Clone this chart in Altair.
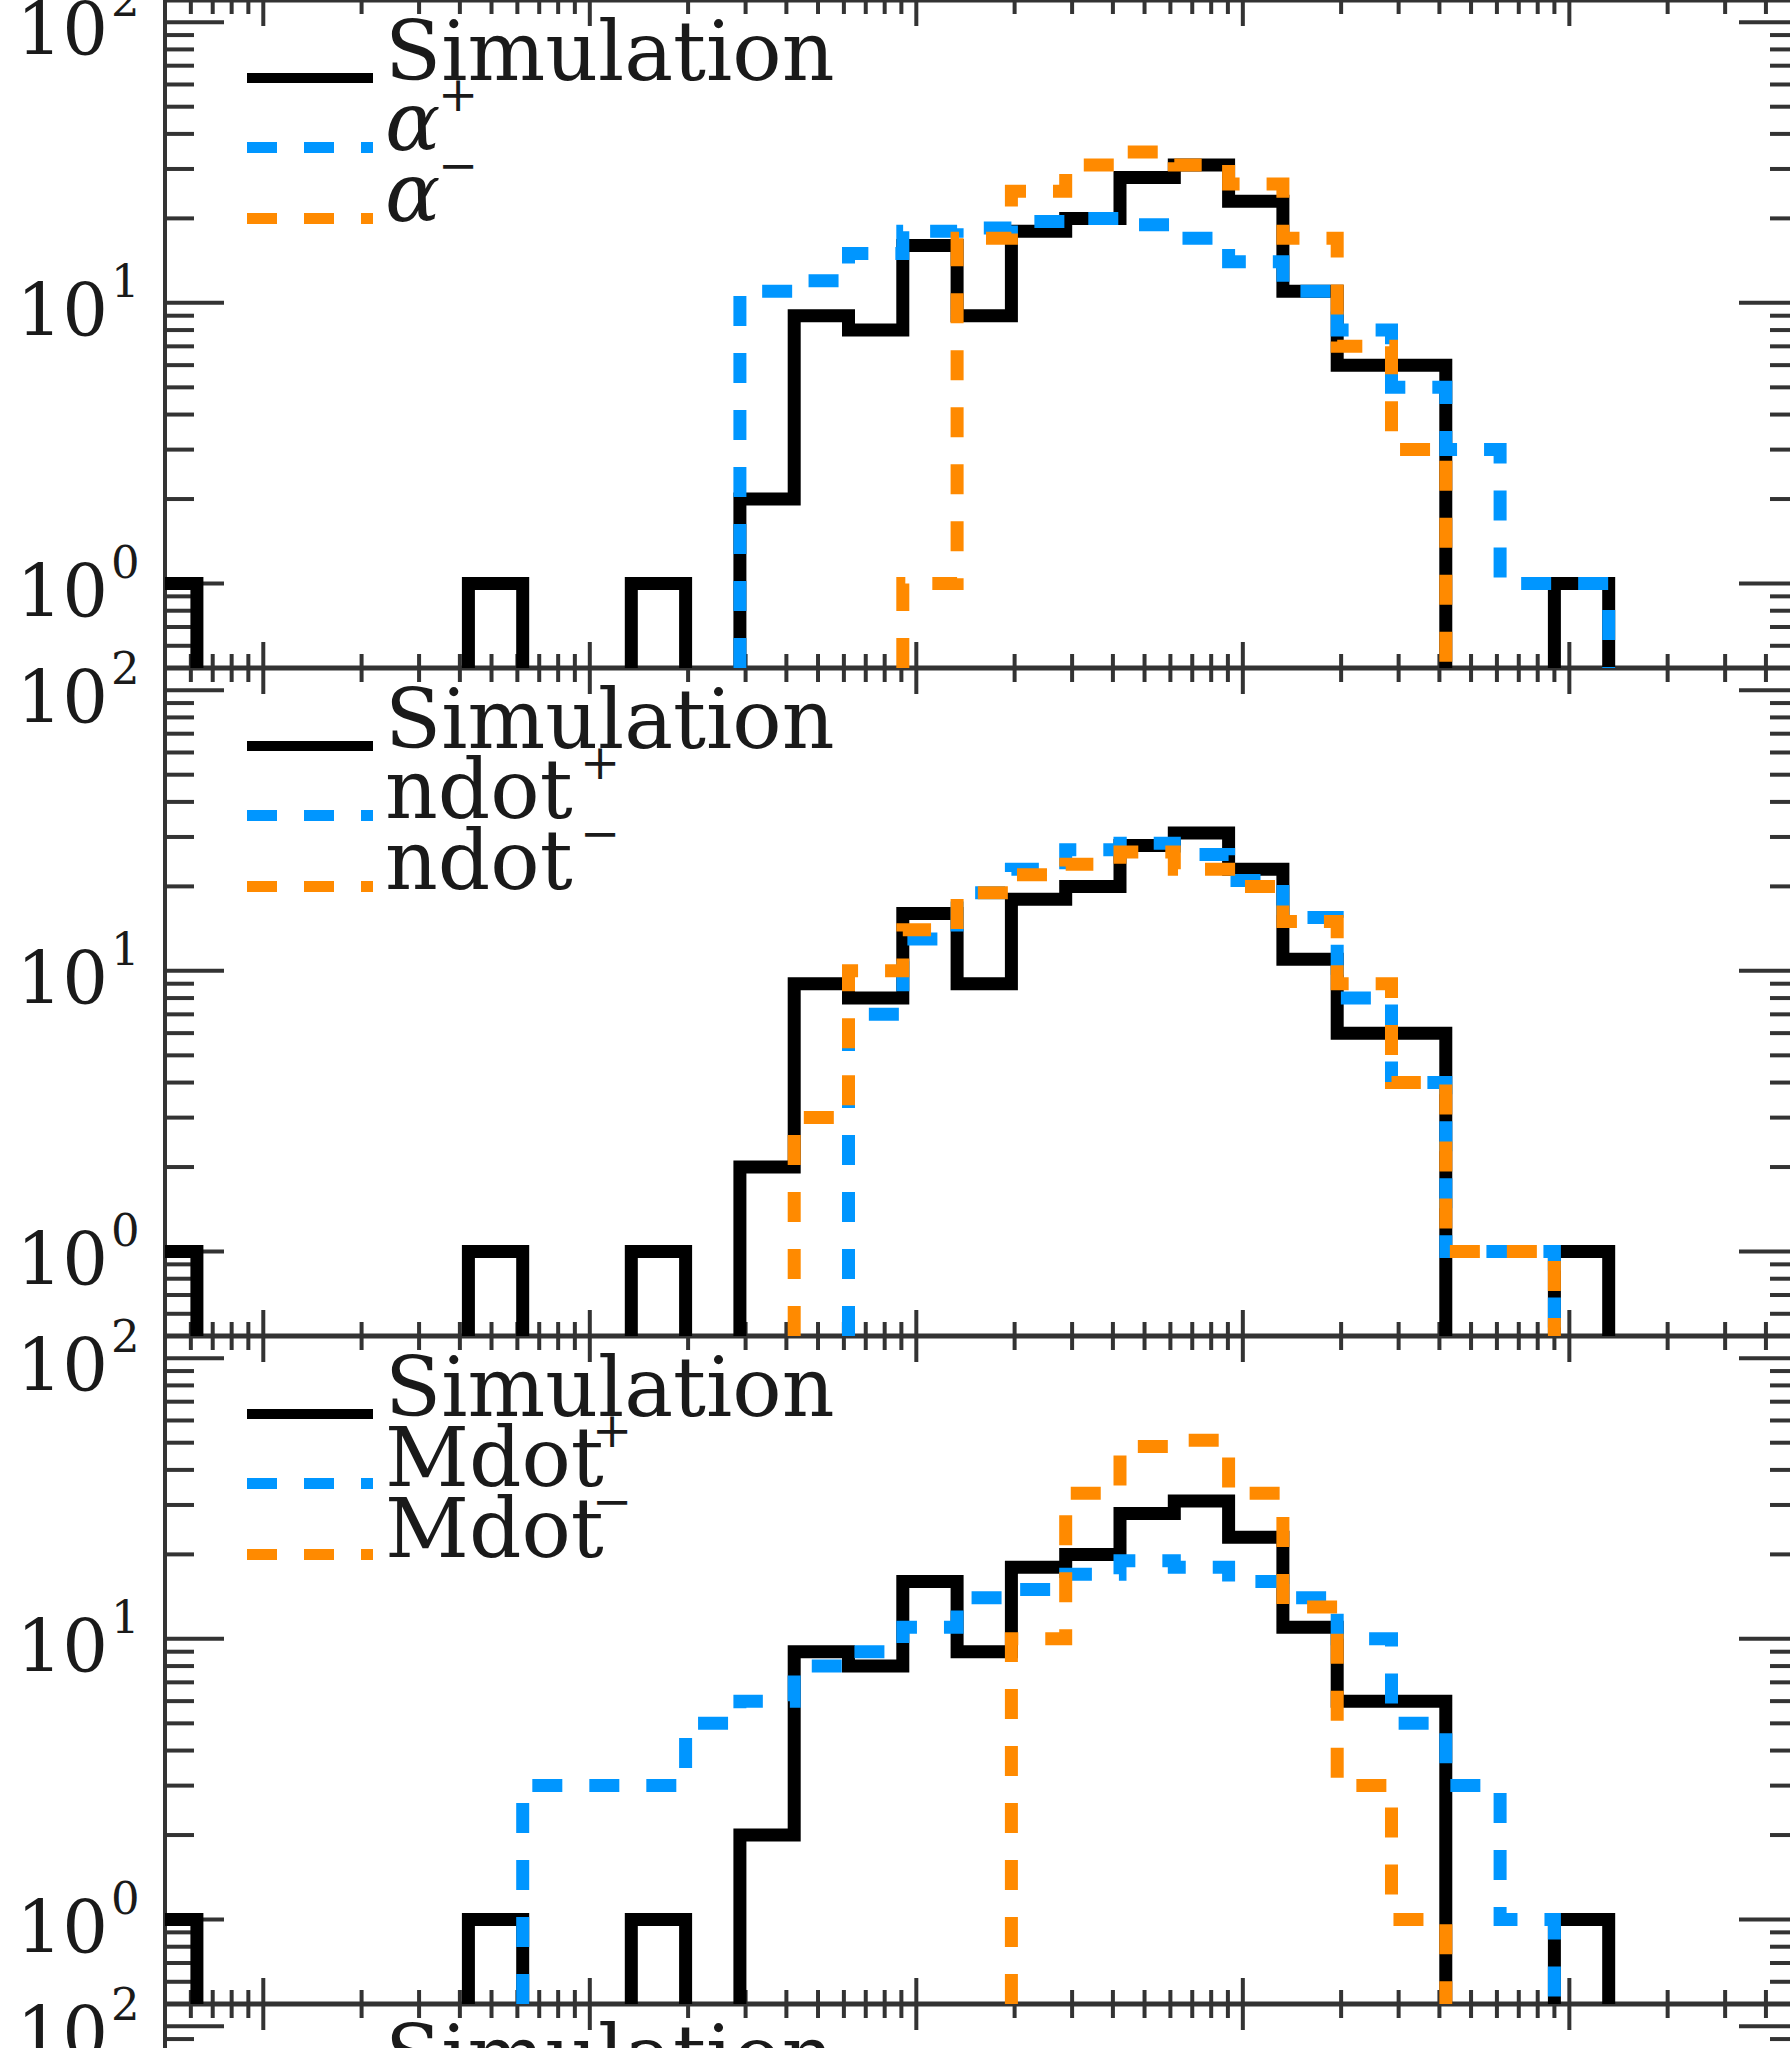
import altair as alt
import pandas as pd

# ---------------- data ----------------
# log10 of the histogram bin edges (29 edges -> 28 bins)
EDGES_LOG10 = [-0.3696, -0.2033, -0.0370, 0.1293, 0.2956, 0.4619, 0.6282,
               0.7945, 0.9608, 1.1271, 1.2934, 1.4597, 1.6260, 1.7923,
               1.9586, 2.1249, 2.2912, 2.4575, 2.6238, 2.7901, 2.9564,
               3.1227, 3.2890, 3.4553, 3.6216, 3.7879, 3.9542, 4.1205,
               4.2868]

SIMULATION = [1, 0, 0, 0, 0, 0, 1, 0, 0, 1, 0,
              2, 9, 8, 16, 9, 18, 20, 28, 31, 23, 11, 6, 6, 0, 0, 1, 0]

ALPHA_PLUS = [0, 0, 0, 0, 0, 0, 0, 0, 0, 0, 0,
              11, 12, 15, 18, 18.5, 19.5, 20, 19, 17, 14, 11, 8, 5, 3, 1, 1, 0]
ALPHA_MINUS = [0, 0, 0, 0, 0, 0, 0, 0, 0, 0, 0,
               0, 0, 0, 1, 17, 25, 31, 34.5, 31, 26.5, 17, 7, 3, 0, 0, 0, 0]

NDOT_PLUS = [0, 0, 0, 0, 0, 0, 0, 0, 0, 0, 0,
             0, 0, 7, 13, 19, 23, 27, 28.5, 26, 21, 15.5, 8, 4, 1, 1, 0, 0]
NDOT_MINUS = [0, 0, 0, 0, 0, 0, 0, 0, 0, 0, 0,
              0, 3, 10, 14, 19, 22, 24, 26.5, 23, 20, 15, 9, 4, 1, 1, 0, 0]

MDOT_PLUS = [0, 0, 0, 0, 0, 0, 0, 3, 3, 3, 5,
             6, 8, 9, 11, 14, 15, 17, 19, 18, 16, 14, 10, 5, 3, 1, 0, 0]
MDOT_MINUS = [0, 0, 0, 0, 0, 0, 0, 0, 0, 0, 0,
              0, 0, 0, 0, 0, 10, 33, 48.5, 51, 33, 13, 3, 1, 0, 0, 0, 0]

LEGEND_FIRST = "Simulation"
LEGEND_NAMES = ["\u03b1", "ndot", "Mdot"]
SUP_PLUS = "+"
SUP_MINUS = "\u2212"

Y_DOMAIN = [0.5, 120]
X_DOMAIN = [0.5, 47400]
X_MAJOR = [1, 10, 100, 1000, 10000]
X_MINOR = [0.6, 0.7, 0.8, 0.9,
           2, 3, 4, 5, 6, 7, 8, 9,
           20, 30, 40, 50, 60, 70, 80, 90,
           200, 300, 400, 500, 600, 700, 800, 900,
           2000, 3000, 4000, 5000, 6000, 7000, 8000, 9000,
           20000, 30000, 40000]
Y_MAJOR = [1, 10, 100]
Y_MINOR = [0.6, 0.7, 0.8, 0.9, 2, 3, 4, 5, 6, 7, 8, 9,
           20, 30, 40, 50, 60, 70, 80, 90]
Y_LABEL_BASE = ["10", "10", "10"]
Y_LABEL_EXP = ["0", "1", "2"]

# ---------------- layout / style ----------------
PLOT_LEFT = 165
W = 1790 - PLOT_LEFT
H_TOTAL = 2048
PANEL_H = 668
TOPS = [0, 668, 1336, 2004]
SERIF = "DejaVu Serif"
AX = "#333333"
TXT = "#1a1a1a"
BLACK = "#000000"
BLUE = "#0096ff"
ORANGE = "#ff8a00"
DASH = [30, 27]
LW = 13
SUP_X = [458, 600, 612]

XS = alt.Scale(type="log", domain=X_DOMAIN, nice=False)


def yscale(top):
    return alt.Scale(type="log", domain=Y_DOMAIN, range=[top + PANEL_H, top], nice=False)


def step_frame(counts):
    rows = []
    run = 0
    prev = 0
    floor = Y_DOMAIN[0]
    for i, c in enumerate(counts):
        xe = 10 ** EDGES_LOG10[i]
        if c > 0 and prev == 0:
            run += 1
            rows.append((xe, floor, run))
        if c == 0 and prev > 0:
            rows.append((xe, prev, run))
            rows.append((xe, floor, run))
        if c > 0:
            rows.append((xe, c, run))
        prev = c
    if prev > 0:
        xe = 10 ** EDGES_LOG10[len(counts)]
        rows.append((xe, prev, run))
        rows.append((xe, floor, run))
    df = pd.DataFrame(rows, columns=["x", "y", "run"])
    df["idx"] = range(len(df))
    return df


one = pd.DataFrame({"k": [0]})
layers = []

# axis frame lines
layers.append(alt.Chart(one).mark_rule(color=AX, strokeWidth=4).encode(
    x=alt.value(0), y=alt.value(0), y2=alt.value(H_TOTAL)))
for b in TOPS:
    layers.append(alt.Chart(one).mark_rule(color=AX, strokeWidth=5).encode(
        x=alt.value(0), x2=alt.value(W), y=alt.value(b)))

# x ticks at every panel boundary (pointing into both adjacent panels)
xmaj = pd.DataFrame({"v": X_MAJOR})
xmin = pd.DataFrame({"v": X_MINOR})
for b in TOPS:
    for df, ln in ((xmaj, 26), (xmin, 14)):
        layers.append(alt.Chart(df).mark_rule(color=AX, strokeWidth=4).encode(
            x=alt.X("v:Q", scale=XS, axis=None),
            y=alt.value(b - ln), y2=alt.value(b + ln)))

# y ticks and labels for every panel
ymaj = pd.DataFrame({"v": Y_MAJOR})
ymin = pd.DataFrame({"v": Y_MINOR})
ylab = pd.DataFrame({"v": Y_MAJOR, "base": Y_LABEL_BASE, "exp": Y_LABEL_EXP})
for top in TOPS:
    ys = yscale(top)
    for df, ln, rln in ((ymaj, 59, 51), (ymin, 29, 20)):
        layers.append(alt.Chart(df).mark_rule(color=AX, strokeWidth=4).encode(
            x=alt.value(0), x2=alt.value(ln),
            y=alt.Y("v:Q", scale=ys, axis=None)))
        layers.append(alt.Chart(df).mark_rule(color=AX, strokeWidth=4).encode(
            x=alt.value(W - rln), x2=alt.value(W),
            y=alt.Y("v:Q", scale=ys, axis=None)))
    layers.append(alt.Chart(ylab).mark_text(
        align="right", baseline="alphabetic", dy=33, fontSize=72, font=SERIF, color=TXT
    ).encode(x=alt.value(-57), y=alt.Y("v:Q", scale=ys, axis=None), text="base:N"))
    layers.append(alt.Chart(ylab).mark_text(
        align="left", baseline="alphabetic", dy=-6, fontSize=45, font=SERIF, color=TXT
    ).encode(x=alt.value(-54), y=alt.Y("v:Q", scale=ys, axis=None), text="exp:N"))

# histogram step lines
PANEL_DATA = [(SIMULATION, ALPHA_PLUS, ALPHA_MINUS),
              (SIMULATION, NDOT_PLUS, NDOT_MINUS),
              (SIMULATION, MDOT_PLUS, MDOT_MINUS)]
for p, series in enumerate(PANEL_DATA):
    ys = yscale(TOPS[p])
    for counts, col, dashed in zip(series, (BLACK, BLUE, ORANGE), (False, True, True)):
        kw = dict(interpolate="step-after", clip=True, strokeWidth=LW, color=col,
                  strokeJoin="miter", strokeCap="butt")
        if dashed:
            kw["strokeDash"] = DASH
        layers.append(alt.Chart(step_frame(counts)).mark_line(**kw).encode(
            x=alt.X("x:Q", scale=XS, axis=None),
            y=alt.Y("y:Q", scale=ys, axis=None),
            detail="run:N",
            order=alt.Order("idx:Q")))

# legends
for p, top in enumerate(TOPS):
    layers.append(alt.Chart(one).mark_rule(color=BLACK, strokeWidth=10).encode(
        x=alt.value(82), x2=alt.value(208), y=alt.value(top + 78)))
    layers.append(alt.Chart(one).mark_text(
        text=LEGEND_FIRST, align="left", baseline="alphabetic", fontSize=82,
        font=SERIF, color=TXT).encode(x=alt.value(220), y=alt.value(top + 80)))
    if p >= len(LEGEND_NAMES):
        continue
    name = LEGEND_NAMES[p]
    for k, (col, sup) in enumerate(((BLUE, SUP_PLUS), (ORANGE, SUP_MINUS))):
        ly = top + 147.5 + k * 71
        layers.append(alt.Chart(one).mark_rule(color=col, strokeWidth=11, strokeDash=DASH).encode(
            x=alt.value(82), x2=alt.value(208), y=alt.value(ly)))
        tkw = dict(text=name, align="left", baseline="alphabetic", fontSize=82,
                   font=SERIF, color=TXT)
        if p == 0:
            tkw["fontStyle"] = "italic"
        layers.append(alt.Chart(one).mark_text(**tkw).encode(
            x=alt.value(220), y=alt.value(top + 150 + k * 71)))
        layers.append(alt.Chart(one).mark_text(
            text=sup, align="center", baseline="alphabetic", fontSize=48,
            font=SERIF, color=TXT).encode(
            x=alt.value(SUP_X[p] - PLOT_LEFT), y=alt.value(top + 111 + k * 71)))

chart = alt.layer(*layers).resolve_scale(y="independent").properties(
    width=W, height=H_TOTAL,
    autosize=alt.AutoSizeParams(type="none"),
    padding={"left": PLOT_LEFT, "top": 0, "right": 0, "bottom": 0},
).configure_view(stroke=None).configure(background="white")

chart.save("out.html", embed_options={"renderer": "svg", "actions": False})
